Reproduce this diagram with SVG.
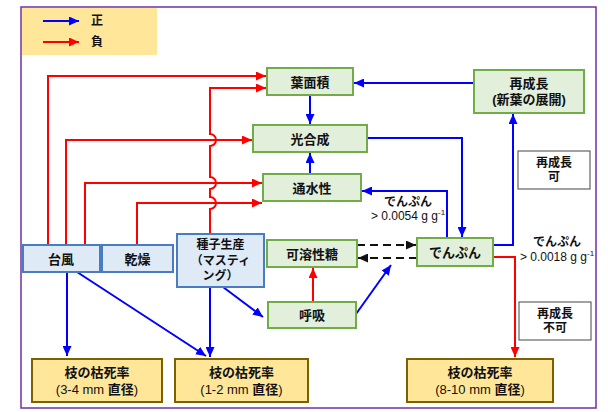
<svg xmlns="http://www.w3.org/2000/svg" width="608" height="412" viewBox="0 0 608 412">
<defs>
<style>
text{font-family:"Liberation Sans","Noto Sans CJK JP",sans-serif;font-size:13px;font-weight:bold;fill:#111;text-anchor:middle}
.n{font-weight:normal;font-size:12px}
.s{font-size:12px}
.r{font-weight:normal}
.g{fill:#e2efda;stroke:#70ad47;stroke-width:2}
.b{fill:#deebf7;stroke:#4a7cc4;stroke-width:2}
.y{fill:#ffe699;stroke:#7f6000;stroke-width:2}
.w{fill:#fff;stroke:#444;stroke-width:1}
.bl{fill:none;stroke:#0000ff;stroke-width:2}
.rd{fill:none;stroke:#ff0000;stroke-width:2}
.dk{fill:none;stroke:#111;stroke-width:2;stroke-dasharray:8,5}
</style>
<marker id="ab" markerUnits="userSpaceOnUse" markerWidth="10" markerHeight="9" refX="10" refY="4.5" orient="auto"><path d="M0,0L10,4.5L0,9z" fill="#0000ff"/></marker>
<marker id="ar" markerUnits="userSpaceOnUse" markerWidth="10" markerHeight="9" refX="10" refY="4.5" orient="auto"><path d="M0,0L10,4.5L0,9z" fill="#ff0000"/></marker>
<marker id="ak" markerUnits="userSpaceOnUse" markerWidth="10" markerHeight="9" refX="10" refY="4.5" orient="auto"><path d="M0,0L10,4.5L0,9z" fill="#111"/></marker>
</defs>
<rect x="0" y="0" width="608" height="412" fill="#fff"/>
<rect x="21" y="7" width="575" height="401" fill="none" stroke="#7030a0" stroke-width="1.5"/>
<g id="legend">
<rect x="22" y="8" width="135" height="47" fill="#ffe699"/>
<line x1="43" y1="21" x2="79" y2="21" class="bl" marker-end="url(#ab)"/>
<text x="97" y="25" class="s">正</text>
<line x1="43" y1="42" x2="79" y2="42" class="rd" marker-end="url(#ar)"/>
<text x="97" y="46" class="s">負</text>
</g>
<g id="connectors">
<path class="rd" d="M48,245V76H266" marker-end="url(#ar)"/>
<path class="rd" d="M66,245V140H252" marker-end="url(#ar)"/>
<path class="rd" d="M85,245V183H262" marker-end="url(#ar)"/>
<path class="rd" d="M137,245V203H262" marker-end="url(#ar)"/>
<path class="rd" d="M210,234V209A6,6 0 0 0 210,197V189A6,6 0 0 0 210,177V146A6,6 0 0 0 210,134V88H266" marker-end="url(#ar)"/>
<path class="rd" d="M313,302V268" marker-end="url(#ar)"/>
<path class="rd" d="M493,257H515V357" marker-end="url(#ar)"/>
<path class="bl" d="M474,83H354" marker-end="url(#ab)"/>
<path class="bl" d="M310,95V124" marker-end="url(#ab)"/>
<path class="bl" d="M310,174V153" marker-end="url(#ab)"/>
<path class="bl" d="M367,138H462V237" marker-end="url(#ab)"/>
<path class="bl" d="M447,238V191H362" marker-end="url(#ab)"/>
<path class="bl" d="M493,245H513V114" marker-end="url(#ab)"/>
<path class="bl" d="M210,287V357" marker-end="url(#ab)"/>
<path class="bl" d="M223,287L263,317" marker-end="url(#ab)"/>
<path class="bl" d="M67,272V356" marker-end="url(#ab)"/>
<path class="bl" d="M77,272L206,356" marker-end="url(#ab)"/>
<path class="bl" d="M356,314L391,265" marker-end="url(#ab)"/>
<path class="dk" d="M357,245H416" marker-end="url(#ak)"/>
<path class="dk" d="M417,258H358" marker-end="url(#ak)"/>
</g>
<g id="n-youmenseki"><rect class="g" x="267" y="68" width="86" height="27"/><text x="310" y="86.5">葉面積</text></g>
<g id="n-kougousei"><rect class="g" x="253" y="125" width="114" height="27"/><text x="310" y="143.5">光合成</text></g>
<g id="n-tsuusui"><rect class="g" x="263" y="174" width="98" height="27"/><text x="312" y="192.5">通水性</text></g>
<g id="n-saiseichou"><rect class="g" x="474" y="70" width="110" height="43"/><text x="529" y="88">再成長</text><text x="529" y="104">(新葉の展開)</text></g>
<g id="n-ka"><rect class="w" x="518" y="151" width="72" height="38"/><text class="s" x="554" y="167">再成長</text><text class="s" x="554" y="181">可</text></g>
<g id="n-fuka"><rect class="w" x="519" y="302" width="72" height="38"/><text class="s" x="555" y="318">再成長</text><text class="s" x="555" y="332">不可</text></g>
<g id="n-denpun"><rect class="g" x="417" y="238" width="76" height="28"/><text x="455" y="256.5">でんぷん</text></g>
<g id="n-kayousei"><rect class="g" x="267" y="240" width="90" height="27"/><text x="312" y="258.5">可溶性糖</text></g>
<g id="n-kokyuu"><rect class="g" x="268" y="302" width="88" height="26"/><text x="312" y="319.5">呼吸</text></g>
<g id="n-taifuu"><rect class="b" x="23" y="245" width="77" height="27"/><text x="61" y="263.5">台風</text></g>
<g id="n-kansou"><rect class="b" x="102" y="245" width="71" height="27"/><text x="137.5" y="263.5">乾燥</text></g>
<g id="n-shushi"><rect class="b" x="177" y="234" width="87" height="53"/><text class="s" x="220.5" y="249">種子生産</text><text class="s" x="220.5" y="265">（マスティ</text><text class="s" x="220.5" y="280">ング）</text></g>
<g id="n-koshi34"><rect class="y" x="32" y="359" width="130" height="43"/><text x="97" y="377">枝の枯死率</text><text x="97" y="394"><tspan class="r">(3-4 mm </tspan>直径<tspan class="r">)</tspan></text></g>
<g id="n-koshi12"><rect class="y" x="175" y="359" width="133" height="43"/><text x="241.5" y="377">枝の枯死率</text><text x="241.5" y="394"><tspan class="r">(1-2 mm </tspan>直径<tspan class="r">)</tspan></text></g>
<g id="n-koshi810"><rect class="y" x="407" y="359" width="146" height="43"/><text x="480" y="377">枝の枯死率</text><text x="480" y="394"><tspan class="r">(8-10 mm </tspan>直径<tspan class="r">)</tspan></text></g>
<g id="labels">
<text class="s" x="408" y="206">でんぷん</text>
<text class="n" x="408" y="220">&gt; 0.0054 g g<tspan font-size="8" dy="-5">-1</tspan></text>
<text class="s" x="557" y="246">でんぷん</text>
<text class="n" x="557" y="261">&gt; 0.0018 g g<tspan font-size="8" dy="-5">-1</tspan></text>
</g>
</svg>
